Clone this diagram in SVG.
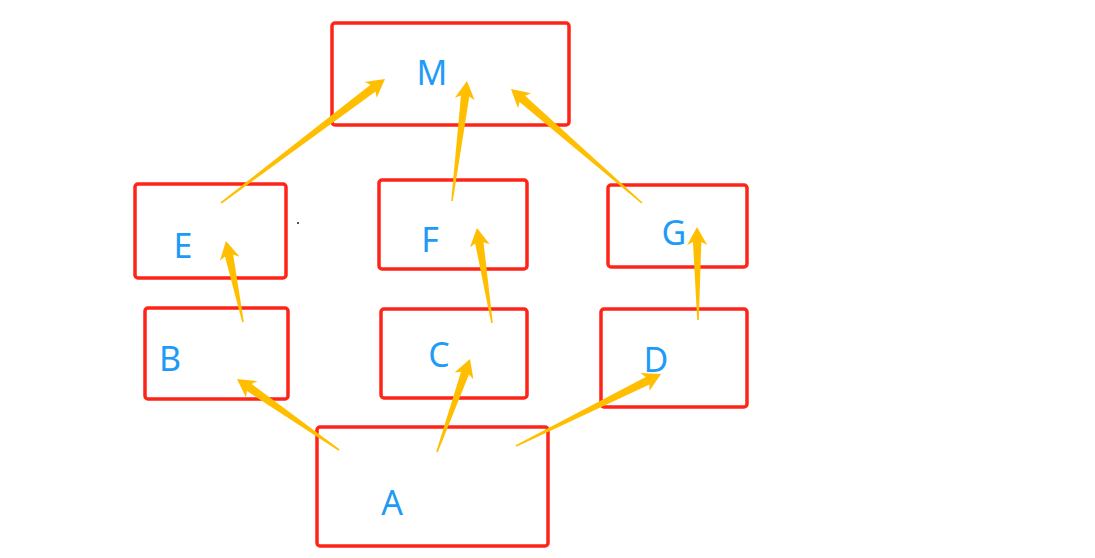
<svg xmlns="http://www.w3.org/2000/svg" xmlns:xlink="http://www.w3.org/1999/xlink" width="1095" height="558" viewBox="0 0 1095 558">
<style>
.box{fill:none;stroke:#ff2418;stroke-width:3.5}
.lbl{font-family:"Noto Sans","Open Sans",sans-serif;font-size:34px;fill:#1e9bf6;text-anchor:middle}
.arr{fill:#ffbf00}
</style>
<rect width="1095" height="558" fill="#ffffff"/>
<g id="node-M"><rect class="box" x="332" y="23" width="237" height="102" rx="3"/><text class="lbl" x="432" y="85">M</text></g>
<g id="node-E"><rect class="box" x="135" y="184" width="151" height="94" rx="3"/><text class="lbl" x="183" y="258">E</text></g>
<g id="node-F"><rect class="box" x="379" y="180" width="148" height="89" rx="3"/><text class="lbl" x="430" y="252">F</text></g>
<g id="node-G"><rect class="box" x="608" y="185" width="139" height="82" rx="3"/><text class="lbl" x="674" y="245">G</text></g>
<g id="node-B"><rect class="box" x="145" y="308" width="143" height="91" rx="3"/><text class="lbl" x="170" y="371">B</text></g>
<g id="node-C"><rect class="box" x="381" y="309" width="146" height="89" rx="3"/><text class="lbl" x="439" y="367">C</text></g>
<g id="node-D"><rect class="box" x="601" y="309" width="146" height="98" rx="3"/><text class="lbl" x="656" y="372">D</text></g>
<g id="node-A"><rect class="box" x="317" y="427" width="231" height="119" rx="3"/><text class="lbl" x="392" y="515">A</text></g>
<circle cx="298" cy="223" r="0.9" fill="#000"/>
<g id="connectors" class="arr">
<polygon transform="translate(221,203) rotate(-37.09)" points="0,-0.8 190.6,-4.2 187.6,-10 205.6,0 187.6,10 190.6,4.2 0,0.8"/>
<polygon transform="translate(452,201) rotate(-82.87)" points="0,-0.8 105.9,-4.2 102.9,-10 120.9,0 102.9,10 105.9,4.2 0,0.8"/>
<polygon transform="translate(642,203) rotate(-138.97)" points="0,-0.8 158.7,-4.2 155.7,-10 173.7,0 155.7,10 158.7,4.2 0,0.8"/>
<polygon transform="translate(243,322) rotate(-101.85)" points="0,-0.8 67.8,-4.2 64.8,-10 82.8,0 64.8,10 67.8,4.2 0,0.8"/>
<polygon transform="translate(492,323) rotate(-98.97)" points="0,-0.8 81.2,-4.2 78.2,-10 96.2,0 78.2,10 81.2,4.2 0,0.8"/>
<polygon transform="translate(698,320) rotate(-90.62)" points="0,-0.8 78,-4.2 75,-10 93,0 75,10 78,4.2 0,0.8"/>
<polygon transform="translate(339,450) rotate(-145.16)" points="0,-0.8 109.3,-4.2 106.3,-10 124.3,0 106.3,10 109.3,4.2 0,0.8"/>
<polygon transform="translate(437,452) rotate(-70.46)" points="0,-0.8 83.7,-4.2 80.7,-10 98.7,0 80.7,10 83.7,4.2 0,0.8"/>
<polygon transform="translate(516,446) rotate(-26.40)" points="0,-0.8 146.9,-4.2 143.9,-10 161.9,0 143.9,10 146.9,4.2 0,0.8"/>
</g>
</svg>
